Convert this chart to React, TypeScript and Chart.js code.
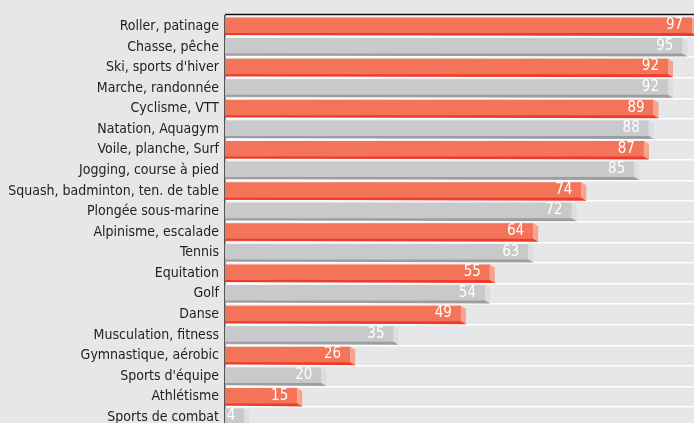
import React, { useEffect, useRef } from "react";
import { Chart, registerables } from "chart.js";

Chart.register(...registerables);

const categories = [
  "Roller, patinage",
  "Chasse, pêche",
  "Ski, sports d'hiver",
  "Marche, randonnée",
  "Cyclisme, VTT",
  "Natation, Aquagym",
  "Voile, planche, Surf",
  "Jogging, course à pied",
  "Squash, badminton, ten. de table",
  "Plongée sous-marine",
  "Alpinisme, escalade",
  "Tennis",
  "Equitation",
  "Golf",
  "Danse",
  "Musculation, fitness",
  "Gymnastique, aérobic",
  "Sports d'équipe",
  "Athlétisme",
  "Sports de combat",
];

const values = [97, 95, 92, 92, 89, 88, 87, 85, 74, 72, 64, 63, 55, 54, 49, 35, 26, 20, 15, 4];

const FONT = "'DejaVu Sans Condensed', sans-serif";

const ORANGE = { face: "#f37459", strip: "#ee3b2e", side: "#f6a48e" };
const GRAY = { face: "#c8c9cb", strip: "#9c9d9f", side: "#dcdddf" };

const palette = (i: number) => (i % 2 === 0 ? ORANGE : GRAY);

const bgPlugin = {
  id: "bg",
  beforeDraw(chart: any) {
    const { ctx, width, height } = chart;
    ctx.save();
    ctx.fillStyle = "#e6e7e9";
    ctx.fillRect(0, 0, width, height);
    ctx.restore();
  },
};

const bar3dPlugin = {
  id: "bar3d",
  afterDatasetsDraw(chart: any) {
    const { ctx, chartArea } = chart;
    const meta = chart.getDatasetMeta(0);
    ctx.save();
    meta.data.forEach((el: any, i: number) => {
      const c = palette(i);
      const xe = el.x;
      const xs = el.base;
      const top = el.y - el.height / 2;
      const bottom = el.y + el.height / 2;
      ctx.fillStyle = c.side;
      ctx.beginPath();
      ctx.moveTo(xe, top);
      ctx.lineTo(xe + 5, top + 3);
      ctx.lineTo(xe + 5, bottom + 1);
      ctx.lineTo(xe, bottom);
      ctx.closePath();
      ctx.fill();
      ctx.fillStyle = c.strip;
      ctx.beginPath();
      ctx.moveTo(xs, bottom - 2);
      ctx.lineTo(xe, bottom - 2);
      ctx.lineTo(xe + 5, bottom + 1);
      ctx.lineTo(xs, bottom);
      ctx.closePath();
      ctx.fill();
      ctx.fillStyle = "#ffffff";
      ctx.font = `15px ${FONT}`;
      ctx.textAlign = "right";
      ctx.textBaseline = "middle";
      ctx.fillText(String(values[i]), xe - 9, el.y - 1);
    });
    ctx.strokeStyle = "#111111";
    ctx.lineWidth = 1.5;
    ctx.beginPath();
    ctx.moveTo(chartArea.left, chartArea.top - 1.5);
    ctx.lineTo(chartArea.right, chartArea.top - 1.5);
    ctx.stroke();
    ctx.restore();
  },
};

export default function App() {
  const ref = useRef<HTMLCanvasElement | null>(null);
  useEffect(() => {
    document.body.style.margin = "0";
    if (!ref.current) return;
    const chart = new Chart(ref.current, {
      type: "bar",
      data: {
        labels: categories,
        datasets: [
          {
            data: values,
            backgroundColor: values.map((_, i) => palette(i).face),
            borderWidth: 0,
            barPercentage: 0.85,
            categoryPercentage: 1,
          },
        ],
      },
      options: {
        indexAxis: "y",
        animation: false,
        responsive: false,
        maintainAspectRatio: false,
        layout: { padding: { top: 16, right: 0, bottom: 0, left: 0 } },
        plugins: {
          legend: { display: false },
          tooltip: { enabled: false },
        },
        scales: {
          x: {
            display: false,
            min: 0,
            max: 97.4,
          },
          y: {
            afterFit(scale: any) {
              scale.width = 225;
            },
            grid: {
              display: true,
              offset: true,
              color: "#ffffff",
              lineWidth: 1.5,
              drawTicks: false,
            },
            border: { display: true, color: "#555555", width: 1.5 },
            ticks: {
              autoSkip: false,
              color: "#222222",
              padding: 6,
              font: { family: FONT, size: 14 },
            },
          },
        },
      },
      plugins: [bgPlugin, bar3dPlugin],
    });
    return () => chart.destroy();
  }, []);
  return (
    <div style={{ width: 694, height: 423, overflow: "hidden" }}>
      <canvas ref={ref} width={694} height={442} style={{ display: "block" }} />
    </div>
  );
}
